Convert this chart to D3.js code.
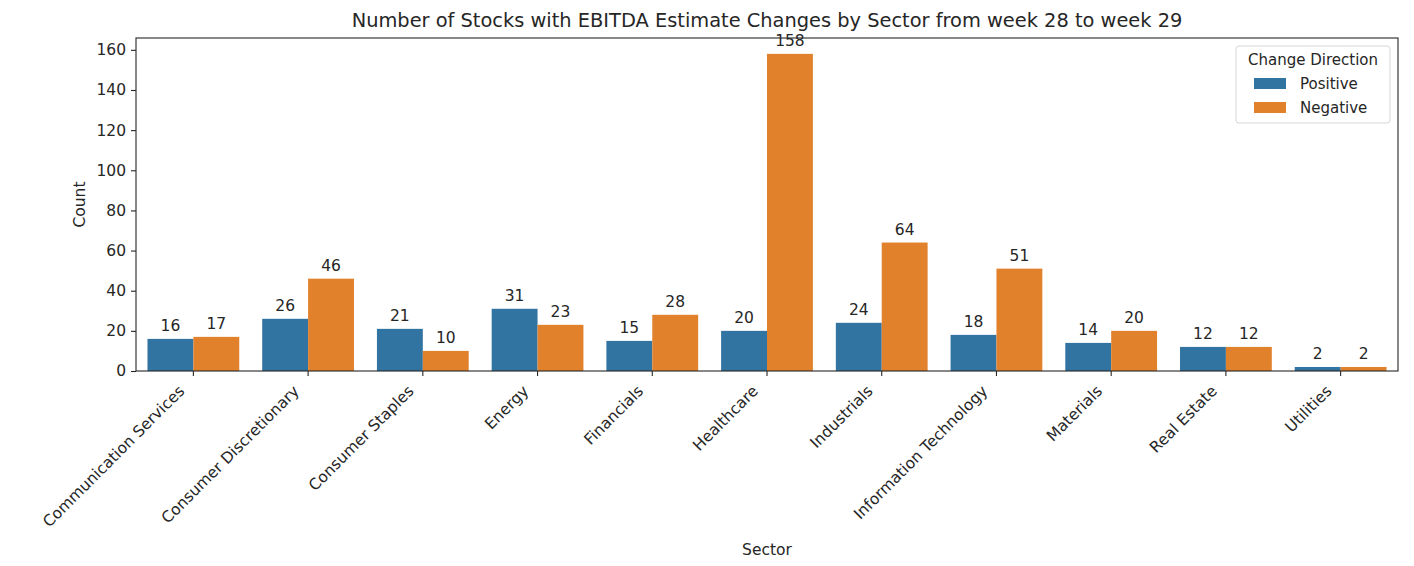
<!DOCTYPE html>
<html>
<head>
<meta charset="utf-8">
<script src="https://cdn.jsdelivr.net/npm/d3@7"></script>
<style>
  body { margin: 0; background: #fff; }
  svg { display: block; font-family: "DejaVu Sans", sans-serif; }
</style>
</head>
<body>
<svg id="chart" width="1414" height="566"></svg>
<script>
var sectors = ['Communication Services', 'Consumer Discretionary', 'Consumer Staples', 'Energy',
  'Financials', 'Healthcare', 'Industrials', 'Information Technology', 'Materials',
  'Real Estate', 'Utilities'];
var directions = ['Positive', 'Negative'];
var positive = [16, 26, 21, 31, 15, 20, 24, 18, 14, 12, 2];
var negative = [17, 46, 10, 23, 28, 158, 64, 51, 20, 12, 2];
var yTicks = [0, 20, 40, 60, 80, 100, 120, 140, 160];
var colors = ['#3274a1', '#e1812c'];

var W = 1414, H = 566;
var margin = {top: 38, right: 16, bottom: 195, left: 136};
var w = W - margin.left - margin.right,
    h = H - margin.top - margin.bottom;
var ink = '#262626', fs = 15.5;

var svg = d3.select('#chart');
var g = svg.append('g').attr('transform', 'translate(' + margin.left + ',' + margin.top + ')');

var x = d3.scaleBand().domain(sectors).range([0, w]).paddingInner(0.2).paddingOuter(0.1);
var x1 = d3.scaleBand().domain(directions).range([0, x.bandwidth()]);
var y = d3.scaleLinear().domain([0, 158 * 1.05]).range([h, 0]);

// rows: one per sector/direction pair
var rows = [];
sectors.forEach(function (s, i) {
  rows.push({sector: s, dir: 'Positive', value: positive[i]});
  rows.push({sector: s, dir: 'Negative', value: negative[i]});
});

g.selectAll('rect.bar')
  .data(rows).enter()
  .append('rect')
  .attr('class', 'bar')
  .attr('x', function (d) { return x(d.sector) + x1(d.dir); })
  .attr('width', x1.bandwidth())
  .attr('y', function (d) { return y(d.value); })
  .attr('height', function (d) { return h - y(d.value); })
  .attr('fill', function (d) { return colors[directions.indexOf(d.dir)]; });

// frame
g.append('rect')
  .attr('width', w).attr('height', h)
  .attr('fill', 'none').attr('stroke', ink).attr('stroke-width', 1.1);

var yAxis = g.append('g')
  .call(d3.axisLeft(y).tickValues(yTicks).tickSize(5).tickPadding(5));
yAxis.select('.domain').remove();

var xAxis = g.append('g')
  .attr('transform', 'translate(0,' + h + ')')
  .call(d3.axisBottom(x).tickSize(5).tickSizeOuter(0));
xAxis.select('.domain').remove();
xAxis.selectAll('text')
  .attr('text-anchor', 'end')
  .attr('dy', null)
  .attr('y', null)
  .attr('transform', 'translate(-8,21) rotate(-45)');

[xAxis, yAxis].forEach(function (a) {
  a.attr('font-family', null).attr('font-size', null);
  a.selectAll('line').attr('stroke', ink).attr('stroke-width', 1.1);
  a.selectAll('text').attr('fill', ink).attr('font-size', fs)
    .attr('font-family', '"DejaVu Sans", sans-serif');
});

// value labels
g.selectAll('text.val')
  .data(rows).enter()
  .append('text')
  .attr('class', 'val')
  .attr('x', function (d) { return x(d.sector) + x1(d.dir) + x1.bandwidth() / 2; })
  .attr('y', function (d) { return y(d.value) - 8; })
  .attr('text-anchor', 'middle')
  .attr('font-size', fs)
  .attr('fill', ink)
  .text(function (d) { return d.value; });

// title and axis labels
svg.append('text')
  .attr('x', margin.left + w / 2).attr('y', 27)
  .attr('text-anchor', 'middle').attr('font-size', 19.4).attr('fill', ink)
  .text('Number of Stocks with EBITDA Estimate Changes by Sector from week 28 to week 29');

svg.append('text')
  .attr('transform', 'translate(85,' + (margin.top + h / 2) + ') rotate(-90)')
  .attr('text-anchor', 'middle').attr('font-size', fs).attr('fill', ink)
  .text('Count');

svg.append('text')
  .attr('x', margin.left + w / 2).attr('y', 555)
  .attr('text-anchor', 'middle').attr('font-size', fs).attr('fill', ink)
  .text('Sector');

// legend
var lg = svg.append('g').attr('transform', 'translate(1236,46)');
lg.append('rect')
  .attr('width', 154).attr('height', 77).attr('rx', 3)
  .attr('fill', '#fff').attr('fill-opacity', 0.8)
  .attr('stroke', '#d6d6d6');
lg.append('text')
  .attr('x', 77).attr('y', 19)
  .attr('text-anchor', 'middle').attr('font-size', 15).attr('fill', ink)
  .text('Change Direction');
var item = lg.selectAll('g.item')
  .data(directions).enter()
  .append('g')
  .attr('class', 'item')
  .attr('transform', function (d, i) { return 'translate(18,' + (32 + i * 24) + ')'; });
item.append('rect')
  .attr('width', 32).attr('height', 11)
  .attr('fill', function (d, i) { return colors[i]; });
item.append('text')
  .attr('x', 46).attr('y', 10.5)
  .attr('font-size', 15).attr('fill', ink)
  .text(function (d) { return d; });
</script>
</body>
</html>
